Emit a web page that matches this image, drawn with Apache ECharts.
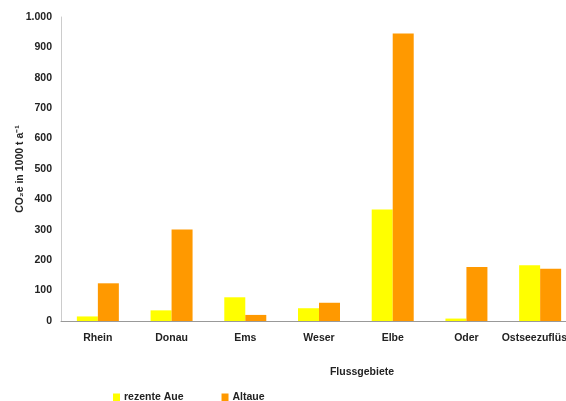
<!DOCTYPE html>
<html>
<head>
<meta charset="utf-8">
<script src="https://cdn.jsdelivr.net/npm/echarts@6/dist/echarts.min.js"></script>
<style>
  html, body { margin: 0; padding: 0; background: #ffffff; }
  #chart { width: 566px; height: 401px; }
</style>
</head>
<body>
<div id="chart"></div>
<script>
// River basins and annual CO2-equivalent emissions (1000 t per year)
const categories = ['Rhein', 'Donau', 'Ems', 'Weser', 'Elbe', 'Oder', 'Ostseezuflüsse'];
const rezenteAue = [15, 35, 78, 42, 367, 8, 183];
const altaue = [124, 301, 20, 60, 946, 178, 172];
const yTicks = [0, 100, 200, 300, 400, 500, 600, 700, 800, 900, 1000];

const chart = echarts.init(document.getElementById('chart'));
const fam = 'Liberation Sans, Arial, sans-serif';
const labelFont = { fontFamily: fam, fontWeight: 'bold', fontSize: 10.5, color: '#222' };

chart.setOption({
  animation: false,
  backgroundColor: '#ffffff',
  // the plot area runs past the right edge, so the last category label is cut off
  grid: { left: 61, right: -11, top: 17, bottom: 80, containLabel: false, outerBoundsMode: 'none' },
  legend: {
    left: 108, top: 387,
    icon: 'rect', itemWidth: 7, itemHeight: 8, itemGap: 38,
    textStyle: Object.assign({}, labelFont, { padding: [0, 0, 0, -1] }),
    data: ['rezente Aue', 'Altaue']
  },
  graphic: [
    {
      type: 'text', x: 362, y: 372,
      style: { text: 'Flussgebiete', font: 'bold 10.5px ' + fam, fill: '#222', align: 'center', verticalAlign: 'middle' }
    },
    {
      type: 'text', x: 20, y: 169, rotation: Math.PI / 2,
      style: { text: 'CO₂e in 1000 t a⁻¹', font: 'bold 10.5px ' + fam, fill: '#222', align: 'center', verticalAlign: 'middle' }
    }
  ],
  xAxis: {
    type: 'category',
    data: categories,
    axisLine: { lineStyle: { color: '#999', width: 1 } },
    axisTick: { show: false },
    axisLabel: Object.assign({}, labelFont, { margin: 12, interval: 0 })
  },
  yAxis: {
    type: 'value',
    min: yTicks[0], max: yTicks[yTicks.length - 1], interval: 100,
    axisLine: { show: true, lineStyle: { color: '#ccc', width: 1 } },
    axisTick: { show: false },
    splitLine: { show: false },
    axisLabel: Object.assign({}, labelFont, {
      margin: 9,
      formatter: v => v >= 1000 ? String(v).replace(/\B(?=(\d{3})+(?!\d))/g, '.') : String(v)
    })
  },
  series: [
    { name: 'rezente Aue', type: 'bar', data: rezenteAue, barWidth: 21, barGap: '0%', itemStyle: { color: '#ffff00' } },
    { name: 'Altaue', type: 'bar', data: altaue, barWidth: 21, barGap: '0%', itemStyle: { color: '#ff9900' } }
  ]
});
</script>
</body>
</html>
